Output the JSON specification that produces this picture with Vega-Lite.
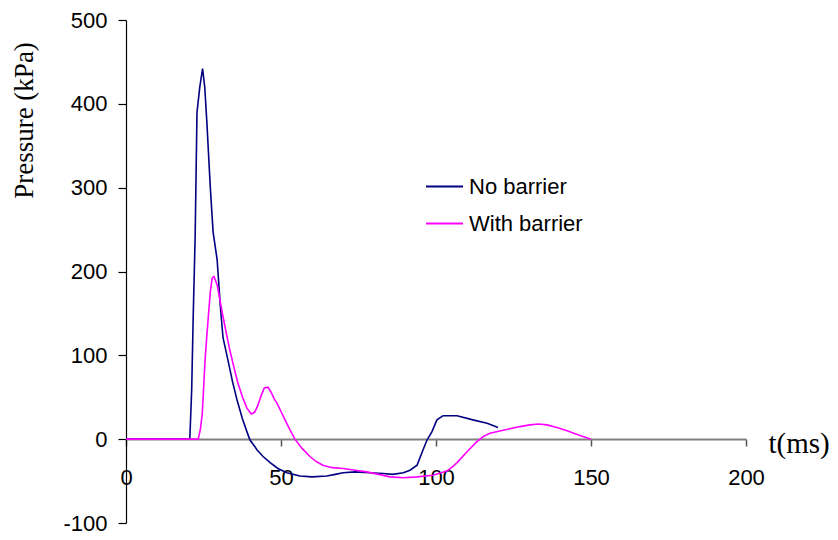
{
  "$schema": "https://vega.github.io/schema/vega-lite/v6.json",
  "width": 620,
  "height": 503,
  "autosize": {"type": "none"},
  "padding": {"left": 126, "top": 20, "right": 92, "bottom": 17},
  "background": "white",
  "config": {"view": {"stroke": null}},
  "data": {
    "values": [
      {"series": "No barrier", "t": 0, "p": 0},
      {"series": "No barrier", "t": 20.3, "p": 0},
      {"series": "No barrier", "t": 20.6, "p": 1.5},
      {"series": "No barrier", "t": 21.2, "p": 60},
      {"series": "No barrier", "t": 21.7, "p": 150},
      {"series": "No barrier", "t": 22.3, "p": 240},
      {"series": "No barrier", "t": 22.9, "p": 390},
      {"series": "No barrier", "t": 23.8, "p": 420},
      {"series": "No barrier", "t": 24.7, "p": 442},
      {"series": "No barrier", "t": 25.4, "p": 420},
      {"series": "No barrier", "t": 26.1, "p": 377},
      {"series": "No barrier", "t": 27.2, "p": 300},
      {"series": "No barrier", "t": 28.1, "p": 247},
      {"series": "No barrier", "t": 29.4, "p": 214},
      {"series": "No barrier", "t": 30.4, "p": 160},
      {"series": "No barrier", "t": 31.3, "p": 121},
      {"series": "No barrier", "t": 32.9, "p": 94},
      {"series": "No barrier", "t": 34.4, "p": 68},
      {"series": "No barrier", "t": 35.8, "p": 47},
      {"series": "No barrier", "t": 37.5, "p": 25},
      {"series": "No barrier", "t": 39.0, "p": 9},
      {"series": "No barrier", "t": 40.0, "p": -1},
      {"series": "No barrier", "t": 41.6, "p": -9},
      {"series": "No barrier", "t": 42.3, "p": -13},
      {"series": "No barrier", "t": 44.3, "p": -21},
      {"series": "No barrier", "t": 46.5, "p": -28},
      {"series": "No barrier", "t": 49.0, "p": -35},
      {"series": "No barrier", "t": 51.9, "p": -40},
      {"series": "No barrier", "t": 56.1, "p": -44},
      {"series": "No barrier", "t": 60.0, "p": -45},
      {"series": "No barrier", "t": 64.8, "p": -44},
      {"series": "No barrier", "t": 67.5, "p": -42},
      {"series": "No barrier", "t": 70.0, "p": -40},
      {"series": "No barrier", "t": 74.0, "p": -39},
      {"series": "No barrier", "t": 78.7, "p": -40},
      {"series": "No barrier", "t": 83.0, "p": -41},
      {"series": "No barrier", "t": 86.0, "p": -42},
      {"series": "No barrier", "t": 89.5, "p": -40},
      {"series": "No barrier", "t": 91.6, "p": -37},
      {"series": "No barrier", "t": 93.9, "p": -31},
      {"series": "No barrier", "t": 95.8, "p": -13},
      {"series": "No barrier", "t": 97.1, "p": -1},
      {"series": "No barrier", "t": 98.7, "p": 9},
      {"series": "No barrier", "t": 100.3, "p": 23},
      {"series": "No barrier", "t": 102.3, "p": 28},
      {"series": "No barrier", "t": 106.8, "p": 28},
      {"series": "No barrier", "t": 111.9, "p": 23},
      {"series": "No barrier", "t": 116.5, "p": 19},
      {"series": "No barrier", "t": 120.0, "p": 14},
      {"series": "With barrier", "t": 0, "p": 0},
      {"series": "With barrier", "t": 23.3, "p": 0},
      {"series": "With barrier", "t": 24.0, "p": 12},
      {"series": "With barrier", "t": 24.6, "p": 30},
      {"series": "With barrier", "t": 25.0, "p": 58},
      {"series": "With barrier", "t": 25.5, "p": 94},
      {"series": "With barrier", "t": 26.1, "p": 125},
      {"series": "With barrier", "t": 26.6, "p": 148},
      {"series": "With barrier", "t": 27.2, "p": 176},
      {"series": "With barrier", "t": 27.8, "p": 192},
      {"series": "With barrier", "t": 28.4, "p": 194},
      {"series": "With barrier", "t": 29.4, "p": 184},
      {"series": "With barrier", "t": 30.3, "p": 166},
      {"series": "With barrier", "t": 31.3, "p": 146},
      {"series": "With barrier", "t": 32.4, "p": 126},
      {"series": "With barrier", "t": 33.5, "p": 106},
      {"series": "With barrier", "t": 34.8, "p": 86},
      {"series": "With barrier", "t": 36.1, "p": 67},
      {"series": "With barrier", "t": 37.6, "p": 50},
      {"series": "With barrier", "t": 39.0, "p": 37},
      {"series": "With barrier", "t": 40.4, "p": 30},
      {"series": "With barrier", "t": 41.5, "p": 32},
      {"series": "With barrier", "t": 42.5, "p": 40},
      {"series": "With barrier", "t": 43.6, "p": 52},
      {"series": "With barrier", "t": 44.6, "p": 61},
      {"series": "With barrier", "t": 45.8, "p": 62},
      {"series": "With barrier", "t": 46.8, "p": 56},
      {"series": "With barrier", "t": 47.8, "p": 48},
      {"series": "With barrier", "t": 48.7, "p": 43},
      {"series": "With barrier", "t": 50.0, "p": 33},
      {"series": "With barrier", "t": 51.3, "p": 23},
      {"series": "With barrier", "t": 52.9, "p": 11},
      {"series": "With barrier", "t": 54.5, "p": 0},
      {"series": "With barrier", "t": 56.8, "p": -11},
      {"series": "With barrier", "t": 59.4, "p": -21},
      {"series": "With barrier", "t": 61.5, "p": -27},
      {"series": "With barrier", "t": 63.5, "p": -31},
      {"series": "With barrier", "t": 66.5, "p": -34},
      {"series": "With barrier", "t": 70.0, "p": -35},
      {"series": "With barrier", "t": 74.0, "p": -37},
      {"series": "With barrier", "t": 77.7, "p": -39},
      {"series": "With barrier", "t": 81.5, "p": -42},
      {"series": "With barrier", "t": 85.2, "p": -45},
      {"series": "With barrier", "t": 89.5, "p": -46},
      {"series": "With barrier", "t": 93.9, "p": -45},
      {"series": "With barrier", "t": 99.0, "p": -43},
      {"series": "With barrier", "t": 103.5, "p": -38},
      {"series": "With barrier", "t": 105.3, "p": -33},
      {"series": "With barrier", "t": 106.8, "p": -28},
      {"series": "With barrier", "t": 110.0, "p": -15},
      {"series": "With barrier", "t": 113.2, "p": -3},
      {"series": "With barrier", "t": 115.2, "p": 3},
      {"series": "With barrier", "t": 117.4, "p": 7},
      {"series": "With barrier", "t": 122.0, "p": 11},
      {"series": "With barrier", "t": 127.1, "p": 15},
      {"series": "With barrier", "t": 130.3, "p": 17},
      {"series": "With barrier", "t": 133.0, "p": 18},
      {"series": "With barrier", "t": 135.8, "p": 17},
      {"series": "With barrier", "t": 139.0, "p": 14},
      {"series": "With barrier", "t": 142.3, "p": 10},
      {"series": "With barrier", "t": 146.0, "p": 5},
      {"series": "With barrier", "t": 150.0, "p": 0}
    ]
  },
  "mark": {"type": "line", "strokeWidth": 1.6, "interpolate": "linear"},
  "encoding": {
    "x": {
      "field": "t",
      "type": "quantitative",
      "scale": {"domain": [0, 200], "nice": false, "zero": false},
      "axis": {
        "values": [0, 50, 100, 150, 200],
        "offset": -84,
        "grid": false,
        "domainColor": "#808080",
        "domainWidth": 2,
        "tickColor": "#555555",
        "tickSize": 7,
        "tickWidth": 1.5,
        "labelFont": "Liberation Sans",
        "labelFontSize": 22,
        "labelColor": "black",
        "labelPadding": 21,
        "labelFlush": false,
        "labelOverlap": false,
        "title": "t(ms)",
        "titleFont": "Liberation Serif",
        "titleFontSize": 29,
        "titleFontWeight": "normal",
        "titleColor": "black",
        "titleAlign": "left",
        "titleAnchor": "start",
        "titleBaseline": "middle",
        "titleX": 642,
        "titleY": 4
      }
    },
    "y": {
      "field": "p",
      "type": "quantitative",
      "scale": {"domain": [-100, 500], "nice": false, "zero": false},
      "axis": {
        "values": [-100, 0, 100, 200, 300, 400, 500],
        "labelExpr": "'' + datum.value",
        "grid": false,
        "domainColor": "black",
        "domainWidth": 1.2,
        "tickColor": "black",
        "tickSize": 8,
        "tickWidth": 1.2,
        "labelFont": "Liberation Sans",
        "labelFontSize": 22,
        "labelColor": "black",
        "labelPadding": 11,
        "labelOverlap": false,
        "title": "Pressure (kPa)",
        "titleFont": "Liberation Serif",
        "titleFontSize": 27,
        "titleFontWeight": "normal",
        "titleColor": "black",
        "titleAngle": -90,
        "titleAlign": "center",
        "titleBaseline": "middle",
        "titleX": -102,
        "titleY": 100
      }
    },
    "color": {
      "field": "series",
      "type": "nominal",
      "scale": {"domain": ["No barrier", "With barrier"], "range": ["#000080", "#FF00FF"]},
      "legend": {
        "title": null,
        "orient": "none",
        "legendX": 299,
        "legendY": 147,
        "padding": 0,
        "symbolType": "stroke",
        "symbolSize": 1369,
        "symbolStrokeWidth": 2,
        "labelOffset": 5,
        "labelFont": "Liberation Sans",
        "labelFontSize": 22,
        "labelColor": "black",
        "rowPadding": 6
      }
    }
  }
}
